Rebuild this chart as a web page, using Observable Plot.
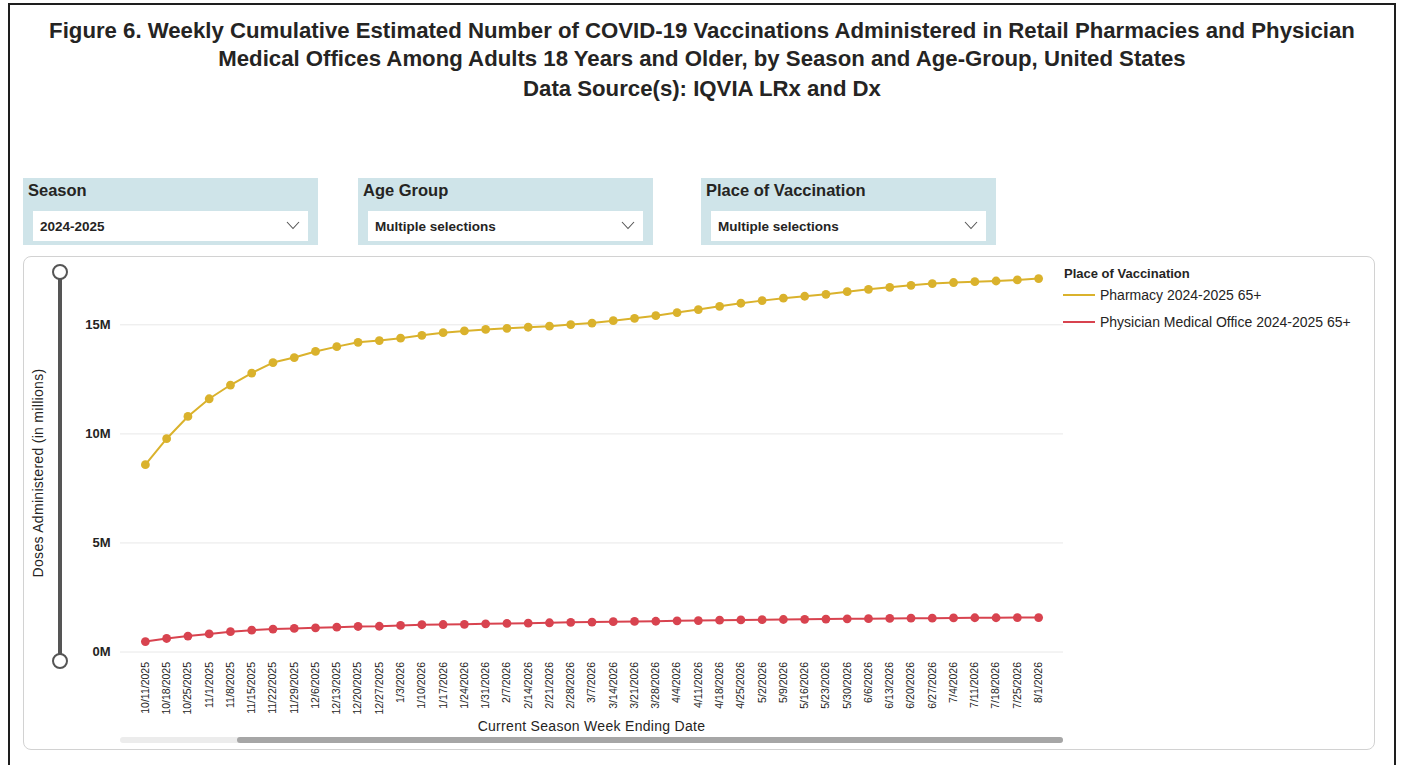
<!DOCTYPE html>
<html>
<head>
<meta charset="utf-8">
<script src="https://cdn.jsdelivr.net/npm/d3@7"></script>
<script src="https://cdn.jsdelivr.net/npm/@observablehq/plot@0.6"></script>
<style>
  html, body { margin: 0; padding: 0; background: #fff; }
  body { width: 1406px; height: 765px; position: relative; overflow: hidden; font-family: "Liberation Sans", Arial, sans-serif; color: #252423; }
  .abs { position: absolute; }
  .frame { left: 8px; top: 3px; width: 1388px; height: 780px; border: 2px solid #1e1e1e; box-sizing: border-box; }
  .title { left: 8px; width: 1388px; text-align: center; font-weight: bold; font-size: 22.2px; line-height: 29px; }
  .slicer { background: #cfe4e9; height: 67px; top: 178px; }
  .slicer .hd { position: absolute; left: 5px; top: 3px; font-weight: bold; font-size: 16.5px; }
  .slicer .dd { position: absolute; left: 10px; right: 10px; top: 33px; height: 30px; background: #fff; }
  .slicer .dd span { position: absolute; left: 7px; top: 8px; font-weight: bold; font-size: 13.5px; }
  .slicer .dd svg { position: absolute; right: 8px; top: 10px; }
  .chartbox { left: 23px; top: 256px; width: 1352px; height: 494px; border: 1px solid #d2d2d2; border-radius: 8px; box-sizing: border-box; }
  .legend { left: 1063px; top: 266px; font-size: 14px; }
</style>
</head>
<body>
<div class="abs frame"></div>
<div class="abs title" style="top:16px">Figure 6. Weekly Cumulative Estimated Number of COVID-19 Vaccinations Administered in Retail Pharmacies and Physician</div>
<div class="abs title" style="top:44px">Medical Offices Among Adults 18 Years and Older, by Season and Age-Group, United States</div>
<div class="abs title" style="top:74px">Data Source(s): IQVIA LRx and Dx</div>

<div id="slicers"></div>
<div class="abs chartbox"></div>

<!-- range slider on the left -->
<div class="abs" style="left:58px; top:272px; width:4px; height:389px; background:#555;"></div>
<div class="abs" style="left:52px; top:264px; width:12px; height:12px; border:2px solid #555; border-radius:50%; background:#fff;"></div>
<div class="abs" style="left:52px; top:653px; width:12px; height:12px; border:2px solid #555; border-radius:50%; background:#fff;"></div>
<div class="abs" style="left:38px; top:474px; width:0; height:0;">
  <div style="position:absolute; left:-150px; top:-9px; width:300px; text-align:center; font-size:14px; letter-spacing:0.3px; color:#252423; transform:rotate(-90deg);">Doses Administered (in millions)</div>
</div>

<div id="chart" class="abs" style="left:0; top:256px;"></div>

<div class="abs" style="left:120px; top:718px; width:943px; text-align:center; font-size:14px; letter-spacing:0.3px; color:#252423;">Current Season Week Ending Date</div>
<div class="abs" style="left:120px; top:737px; width:943px; height:6px; background:#ececec; border-radius:3px;"></div>
<div class="abs" style="left:237px; top:737px; width:826px; height:6px; background:#a6a6a6; border-radius:3px;"></div>

<div class="abs legend" id="legend"></div>

<script>
// ---- data ----
const weeks = ["10/11/2025","10/18/2025","10/25/2025","11/1/2025","11/8/2025","11/15/2025","11/22/2025","11/29/2025","12/6/2025","12/13/2025","12/20/2025","12/27/2025","1/3/2026","1/10/2026","1/17/2026","1/24/2026","1/31/2026","2/7/2026","2/14/2026","2/21/2026","2/28/2026","3/7/2026","3/14/2026","3/21/2026","3/28/2026","4/4/2026","4/11/2026","4/18/2026","4/25/2026","5/2/2026","5/9/2026","5/16/2026","5/23/2026","5/30/2026","6/6/2026","6/13/2026","6/20/2026","6/27/2026","7/4/2026","7/11/2026","7/18/2026","7/25/2026","8/1/2026"];

// cumulative doses, millions
const pharmacy = [8.59,9.78,10.80,11.61,12.24,12.79,13.27,13.50,13.78,14.00,14.20,14.28,14.39,14.52,14.64,14.72,14.79,14.84,14.89,14.94,15.01,15.08,15.19,15.30,15.42,15.56,15.70,15.85,15.99,16.11,16.22,16.31,16.40,16.52,16.63,16.72,16.81,16.89,16.94,16.98,17.01,17.06,17.12];
const physician = [0.48,0.62,0.73,0.83,0.93,1.00,1.05,1.08,1.11,1.14,1.17,1.18,1.22,1.25,1.26,1.27,1.29,1.31,1.32,1.34,1.36,1.37,1.39,1.40,1.41,1.43,1.44,1.46,1.47,1.48,1.49,1.50,1.51,1.52,1.53,1.54,1.55,1.55,1.56,1.57,1.57,1.58,1.58];

const seriesNames = ["Pharmacy 2024-2025 65+", "Physician Medical Office 2024-2025 65+"];
const seriesColors = ["#dab22c", "#d8434f"];
const yTicks = [0, 5e6, 10e6, 15e6];

const slicerTitles = ["Season", "Age Group", "Place of Vaccination"];
const slicerValues = ["2024-2025", "Multiple selections", "Multiple selections"];
const legendTitle = "Place of Vaccination";

// ---- slicers ----
const slicerLefts = [23, 358, 701];
const sl = document.getElementById("slicers");
slicerTitles.forEach((t, i) => {
  const d = document.createElement("div");
  d.className = "abs slicer";
  d.style.left = slicerLefts[i] + "px";
  d.style.width = "295px";
  d.innerHTML = `<div class="hd">${t}</div><div class="dd"><span>${slicerValues[i]}</span>
    <svg width="14" height="9" viewBox="0 0 14 9"><polyline points="1,1 7,7.5 13,1" fill="none" stroke="#555" stroke-width="1.1"/></svg></div>`;
  sl.appendChild(d);
});

// ---- legend ----
const lg = document.getElementById("legend");
lg.innerHTML = `<div style="position:absolute; left:1px; top:0; white-space:nowrap; font-size:13px; font-weight:600; color:#252423;">${legendTitle}</div>` +
  seriesNames.map((n, i) => `<div style="position:absolute; left:0; top:${21 + i * 27}px; white-space:nowrap;">
     <span style="display:inline-block; width:32px; height:2px; background:${seriesColors[i]}; vertical-align:middle; margin-right:5px; position:relative; top:-1px;"></span><span style="color:#252423;">${n}</span></div>`).join("");

// ---- chart ----
const data = [];
weeks.forEach((w, i) => {
  data.push({week: w, value: pharmacy[i] * 1e6, series: seriesNames[0]});
});
weeks.forEach((w, i) => {
  data.push({week: w, value: physician[i] * 1e6, series: seriesNames[1]});
});

const chart = Plot.plot({
  width: 1063,
  height: 480,
  marginLeft: 120,
  marginRight: 0,
  marginTop: 13.8,
  marginBottom: 84.5,
  style: {fontFamily: "'Liberation Sans', Arial, sans-serif", color: "#252423", background: "transparent", overflow: "visible"},
  x: {type: "point", domain: weeks, padding: 1.17, round: false},
  y: {domain: [0, 17.5e6]},
  color: {domain: seriesNames, range: seriesColors},
  marks: [
    Plot.gridY(yTicks, {stroke: "#e8e8e8", strokeOpacity: 1, strokeWidth: 1}),
    Plot.axisY(yTicks, {tickSize: 0, tickPadding: 10, tickFormat: d => (d / 1e6) + "M", fontSize: 13, fontWeight: "bold", label: null}),
    Plot.axisX({tickSize: 0, tickPadding: 10, tickRotate: -90, fontSize: 10.5, label: null}),
    Plot.line(data, {x: "week", y: "value", stroke: "series", strokeWidth: 2, z: "series"}),
    Plot.dot(data, {x: "week", y: "value", fill: "series", r: 4.4})
  ]
});
document.getElementById("chart").appendChild(chart);
</script>
</body>
</html>
